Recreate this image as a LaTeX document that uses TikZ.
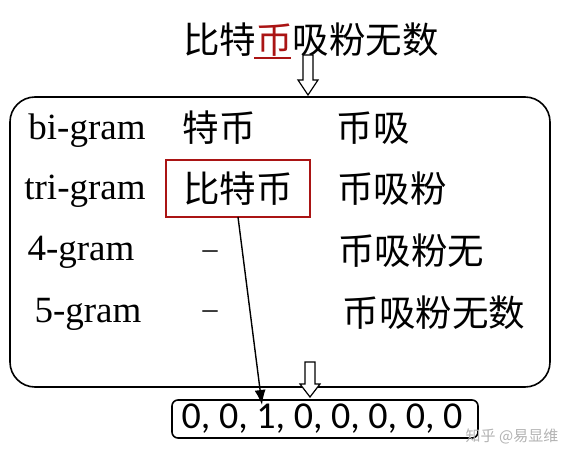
\documentclass[tikz,border=0pt]{standalone}
\usepackage{fontspec}
\setmainfont{Liberation Serif}
\newfontfamily\cjk{Noto Sans CJK SC}
\newfontfamily\calfont{Carlito}
\usetikzlibrary{arrows.meta}
\definecolor{darkred}{RGB}{170,20,20}
\begin{document}
\begin{tikzpicture}[x=1pt,y=-1pt,
  txt/.style={inner sep=0pt,font=\fontsize{37}{40}\selectfont},
  zh/.style={inner sep=0pt,font=\fontsize{36.5}{40}\selectfont\cjk},
  hollow/.style={draw=black,fill=white,line width=1.2pt,line join=miter}]
\useasboundingbox (0,0) rectangle (565,462);
% top sentence
\node[zh] (sent) at (311,40) {比特\textcolor{darkred}{币}吸粉无数};
\draw[darkred,line width=1.5pt] (254,58) -- (291,58);
% hollow arrow top
\draw[hollow] (303,55) -- (313,55) -- (313,80) -- (318,80) -- (308,95) -- (298,80) -- (303,80) -- cycle;
% main box
\node[draw,line width=1.6pt,rounded corners=25pt,minimum width=540pt,minimum height=290pt] (main) at (280,242) {};
% rows
\node[txt] (r1) at (87,131) {bi-gram};
\node[txt] (r2) at (85,191) {tri-gram};
\node[txt] (r3) at (81,252) {4-gram};
\node[txt] (r4) at (88,314) {5-gram};
% column 2
\node[zh] (c21) at (219,128) {特币};
\node[draw=darkred,line width=1.2pt,minimum width=144pt,minimum height=57pt,inner sep=0pt] (red) at (238,188.5) {};
\node[zh] at (red.center) (c22) {比特币};
\node[inner sep=0pt,font=\fontsize{30}{32}\selectfont] (c23) at (210,255) {–};
\node[inner sep=0pt,font=\fontsize{30}{32}\selectfont] (c24) at (210,315) {–};
% column 3
\node[zh] (c31) at (373,128) {币吸};
\node[zh] (c32) at (392,189) {币吸粉};
\node[zh] (c33) at (411,251) {币吸粉无};
\node[zh] (c34) at (434,313) {币吸粉无数};
% hollow arrow bottom
\draw[hollow] (305,362) -- (315,362) -- (315,384) -- (320,384) -- (310,397) -- (300,384) -- (305,384) -- cycle;
% bottom vector
\node[draw,line width=1.6pt,rounded corners=6pt,minimum width=306pt,minimum height=38pt,inner sep=0pt] (vecbox) at (325,419) {};
\node[inner sep=0pt,font=\fontsize{38}{40}\selectfont\calfont] (vec) at (322,419) {0, 0, 1, 0, 0, 0, 0, 0};
\coordinate (tip) at (262,405);
\coordinate (st) at (238,217);
\draw[line width=1.4pt,-{Latex[length=15pt,width=11pt]}] (st) -- (tip);
% watermark
\node[inner sep=0pt,text=black!30,font=\fontsize{15}{16}\selectfont\cjk] (wm) at (512,436) {知乎 @易显维};
\end{tikzpicture}
\end{document}
